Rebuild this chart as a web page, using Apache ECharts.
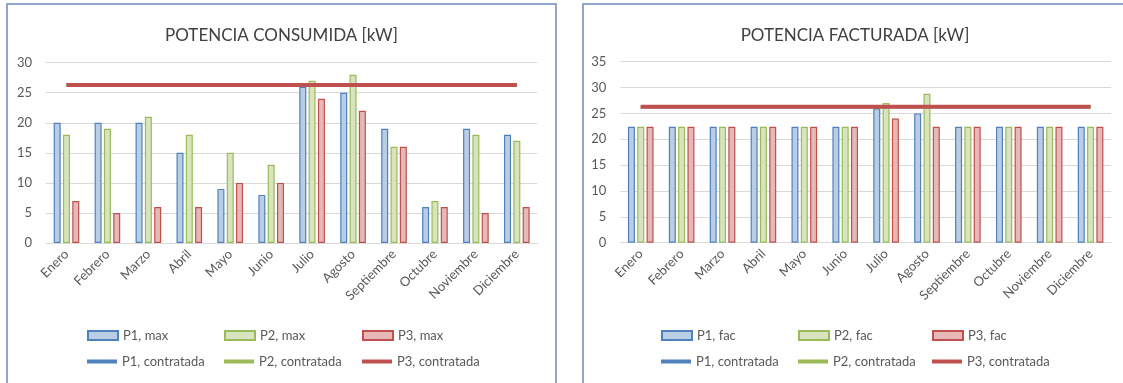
<!DOCTYPE html>
<html lang="es">
<head>
    <meta charset="UTF-8">
    <title>Potencia consumida y facturada</title>
    <script src="https://cdn.jsdelivr.net/npm/echarts@6/dist/echarts.min.js"></script>
    <style>
        body { margin: 0; background: #fff; width: 1123px; height: 383px; overflow: hidden; position: relative; }
        .panel { position: absolute; top: 3px; height: 400px; box-sizing: border-box; border: 2px solid #8ea6cf; background: #fff; }
    </style>
</head>
<body>
<div id="consumida" class="panel" style="left: 6px; width: 551px;"></div>
<div id="facturada" class="panel" style="left: 582px; width: 546px;"></div>
<script>
    // datos
    var meses = ['Enero', 'Febrero', 'Marzo', 'Abril', 'Mayo', 'Junio', 'Julio', 'Agosto', 'Septiembre', 'Octubre', 'Noviembre', 'Diciembre'];

    var p1Max = [20, 20, 20, 15, 9, 8, 26, 25, 19, 6, 19, 18];
    var p2Max = [18, 19, 21, 18, 15, 13, 27, 28, 16, 7, 18, 17];
    var p3Max = [7, 5, 6, 6, 10, 10, 24, 22, 16, 6, 5, 6];

    var p1Fac = [22.4, 22.4, 22.4, 22.4, 22.4, 22.4, 26, 25, 22.4, 22.4, 22.4, 22.4];
    var p2Fac = [22.4, 22.4, 22.4, 22.4, 22.4, 22.4, 27, 28.8, 22.4, 22.4, 22.4, 22.4];
    var p3Fac = [22.4, 22.4, 22.4, 22.4, 22.4, 22.4, 24, 22.4, 22.4, 22.4, 22.4, 22.4];

    var p1Contratada = [26.3, 26.3, 26.3, 26.3, 26.3, 26.3, 26.3, 26.3, 26.3, 26.3, 26.3, 26.3];
    var p2Contratada = [26.3, 26.3, 26.3, 26.3, 26.3, 26.3, 26.3, 26.3, 26.3, 26.3, 26.3, 26.3];
    var p3Contratada = [26.3, 26.3, 26.3, 26.3, 26.3, 26.3, 26.3, 26.3, 26.3, 26.3, 26.3, 26.3];

    var ticksConsumida = { min: 0, max: 30, interval: 5 };
    var ticksFacturada = { min: 0, max: 35, interval: 5 };

    var font = 'Lato, "Open Sans", sans-serif';
    var gris = '#595959';
    var colores = [
        { fill: '#b9cde5', line: '#4f81bd' },
        { fill: '#d7e4bd', line: '#9bbb59' },
        { fill: '#e6b9b8', line: '#c0504d' }
    ];

    function barra(nombre, datos, c) {
        return {
            name: nombre, type: 'bar', data: datos,
            barWidth: 7, barGap: '33%',
            itemStyle: { color: c.fill, borderColor: c.line, borderWidth: 1.2 }
        };
    }

    // las tres lineas coinciden; la de P3 queda encima y algo mas gruesa
    function linea(nombre, datos, c, ancho) {
        return {
            name: nombre, type: 'line', data: datos,
            symbol: 'none', z: 5,
            lineStyle: { color: c.line, width: ancho },
            itemStyle: { color: c.line }
        };
    }

    // una leyenda por elemento para fijar las columnas
    function leyendas(series, cols) {
        return series.map(function (s, i) {
            var esLinea = s.type === 'line';
            return {
                data: [{ name: s.name, icon: 'rect', itemStyle: esLinea ? { color: s.lineStyle.color, borderWidth: 0 } : undefined }],
                left: cols[i % 3],
                top: esLinea ? 350 : 324,
                itemWidth: 30,
                itemHeight: esLinea ? 4 : 9,
                itemGap: 5,
                selectedMode: false,
                padding: 0,
                textStyle: { color: gris, fontSize: 13, fontFamily: font }
            };
        });
    }

    function opcion(titulo, grid, ticks, series, cols) {
        return {
            animation: false,
            title: {
                text: titulo, left: 'center', top: 17,
                textStyle: { color: '#404040', fontSize: 17, fontWeight: 'normal', fontFamily: font }
            },
            legend: leyendas(series, cols),
            grid: grid,
            xAxis: {
                type: 'category', data: meses,
                axisLine: { lineStyle: { color: '#d9d9d9', width: 1 } },
                axisTick: { show: false },
                axisLabel: { rotate: 45, color: gris, fontSize: 13, fontFamily: font, margin: 9, interval: 0 }
            },
            yAxis: {
                type: 'value', min: ticks.min, max: ticks.max, interval: ticks.interval,
                axisLine: { show: false },
                axisTick: { show: false },
                splitLine: { lineStyle: { color: '#d9d9d9', width: 1 } },
                axisLabel: { color: gris, fontSize: 13, fontFamily: font, margin: 14 }
            },
            series: series
        };
    }

    var chart1 = echarts.init(document.getElementById('consumida'));
    chart1.setOption(opcion('POTENCIA CONSUMIDA [kW]',
        { left: 38, top: 57.7, width: 491.3, height: 180.3 },
        ticksConsumida,
        [
            barra('P1, max', p1Max, colores[0]),
            barra('P2, max', p2Max, colores[1]),
            barra('P3, max', p3Max, colores[2]),
            linea('P1, contratada', p1Contratada, colores[0], 3),
            linea('P2, contratada', p2Contratada, colores[1], 3),
            linea('P3, contratada', p3Contratada, colores[2], 4)
        ],
        [79, 216, 354]));

    var chart2 = echarts.init(document.getElementById('facturada'));
    chart2.setOption(opcion('POTENCIA FACTURADA [kW]',
        { left: 36.3, top: 56.7, width: 490.7, height: 181 },
        ticksFacturada,
        [
            barra('P1, fac', p1Fac, colores[0]),
            barra('P2, fac', p2Fac, colores[1]),
            barra('P3, fac', p3Fac, colores[2]),
            linea('P1, contratada', p1Contratada, colores[0], 3),
            linea('P2, contratada', p2Contratada, colores[1], 3),
            linea('P3, contratada', p3Contratada, colores[2], 4)
        ],
        [77, 214, 348]));
</script>
</body>
</html>
